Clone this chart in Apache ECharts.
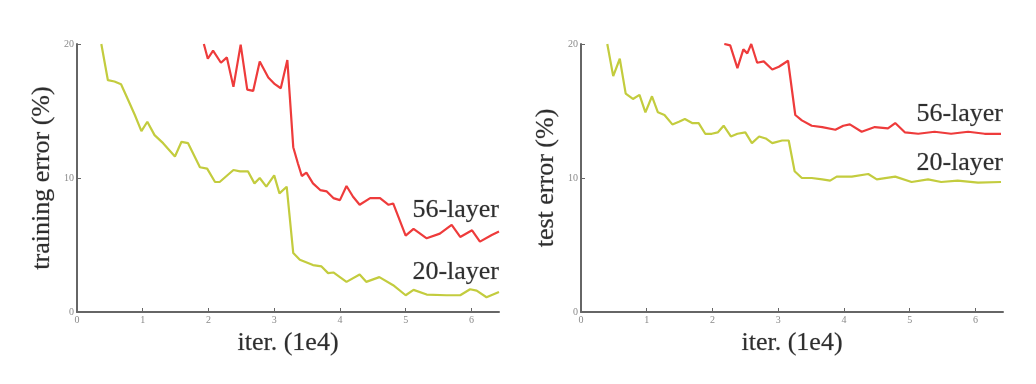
<!DOCTYPE html>
<html><head><meta charset="utf-8">
<script src="https://cdn.jsdelivr.net/npm/echarts@6/dist/echarts.min.js"></script>
<style>html,body{margin:0;padding:0;background:#fff}#c{width:1036px;height:384px}</style>
</head><body><div id="c"></div>
<script>
// training error, 20-layer [iter(1e4), error %]
const train20 = [[0.37,20.0],[0.47,17.3],[0.57,17.2],[0.67,17.0],[0.78,15.8],[0.88,14.7],[0.98,13.5],[1.07,14.2],[1.18,13.2],[1.31,12.6],[1.49,11.6],[1.59,12.7],[1.69,12.6],[1.87,10.8],[1.98,10.7],[2.10,9.7],[2.17,9.7],[2.38,10.6],[2.48,10.5],[2.60,10.5],[2.70,9.6],[2.78,10.0],[2.88,9.35],[3.00,10.2],[3.08,8.85],[3.19,9.35],[3.29,4.4],[3.39,3.9],[3.59,3.5],[3.72,3.4],[3.82,2.9],[3.90,2.95],[4.10,2.25],[4.30,2.8],[4.40,2.25],[4.60,2.6],[4.81,2.0],[5.00,1.25],[5.12,1.65],[5.32,1.3],[5.62,1.25],[5.83,1.25],[5.98,1.7],[6.08,1.6],[6.23,1.1],[6.42,1.5]];
// training error, 56-layer
const train56 = [[1.93,20.0],[1.99,18.9],[2.07,19.5],[2.19,18.6],[2.28,19.0],[2.38,16.8],[2.49,19.95],[2.59,16.6],[2.68,16.5],[2.78,18.7],[2.91,17.5],[3.01,17.0],[3.10,16.7],[3.20,18.8],[3.29,12.3],[3.36,11.1],[3.42,10.15],[3.49,10.4],[3.59,9.6],[3.70,9.1],[3.80,9.0],[3.90,8.5],[4.00,8.35],[4.10,9.4],[4.20,8.6],[4.30,8.0],[4.46,8.5],[4.61,8.5],[4.74,8.0],[4.81,8.1],[5.00,5.7],[5.12,6.2],[5.32,5.5],[5.52,5.85],[5.70,6.5],[5.83,5.6],[6.01,6.1],[6.13,5.25],[6.31,5.75],[6.42,6.0]];
// test error, 20-layer
const test20 = [[0.40,20.0],[0.49,17.6],[0.59,18.9],[0.68,16.3],[0.79,15.9],[0.89,16.2],[0.98,14.9],[1.08,16.1],[1.17,14.9],[1.27,14.7],[1.39,14.0],[1.49,14.2],[1.58,14.4],[1.69,14.1],[1.79,14.1],[1.89,13.3],[1.99,13.3],[2.08,13.4],[2.17,13.9],[2.28,13.1],[2.38,13.3],[2.50,13.4],[2.60,12.6],[2.71,13.1],[2.81,12.95],[2.91,12.6],[3.06,12.8],[3.16,12.8],[3.25,10.5],[3.36,10.0],[3.51,10.0],[3.67,9.9],[3.79,9.8],[3.89,10.1],[4.12,10.1],[4.37,10.3],[4.50,9.9],[4.78,10.1],[5.03,9.7],[5.28,9.9],[5.48,9.7],[5.73,9.8],[6.04,9.65],[6.39,9.7]];
// test error, 56-layer
const test56 = [[2.18,20.0],[2.27,19.9],[2.38,18.2],[2.47,19.6],[2.53,19.3],[2.59,20.0],[2.68,18.6],[2.78,18.7],[2.91,18.1],[3.01,18.3],[3.15,18.75],[3.26,14.7],[3.36,14.3],[3.51,13.9],[3.67,13.8],[3.87,13.6],[3.99,13.9],[4.09,14.0],[4.27,13.45],[4.47,13.8],[4.67,13.7],[4.78,14.1],[4.93,13.4],[5.13,13.3],[5.38,13.45],[5.63,13.3],[5.89,13.45],[6.14,13.3],[6.39,13.3]];
const yTicks = [0, 10, 20];
const xTicks = [0, 1, 2, 3, 4, 5, 6];
const yNames = ['training error (%)', 'test error (%)'];
const xName = 'iter. (1e4)';
const seriesNames = ['56-layer', '20-layer'];

const RED = '#ee3b3b', GREEN = '#c3cc3e', AX = '#666', TXT = '#2e2e2e';
const serif = '"Liberation Serif","DejaVu Serif",serif';
const chart = echarts.init(document.getElementById('c'));

function xAx(i){return {gridIndex:i,type:'value',min:xTicks[0],max:6.42,interval:1,
  name:xName,nameLocation:'middle',nameGap:18,nameTextStyle:{fontFamily:serif,fontSize:26,color:TXT,textBorderColor:'rgba(46,46,46,0.35)',textBorderWidth:0.6},
  axisLine:{lineStyle:{color:AX,width:2}},axisTick:{inside:true,length:4,lineStyle:{color:AX,width:1}},
  axisLabel:{showMaxLabel:false,fontSize:10,color:'#8a8a8a',margin:3,fontFamily:serif,
    formatter:v=>xTicks.indexOf(v)>=0?String(v):''},splitLine:{show:false}};}
function yAx(i){return {gridIndex:i,type:'value',min:yTicks[0],max:yTicks[2],interval:10,
  name:yNames[i],nameLocation:'middle',nameGap:22,nameRotate:90,nameTextStyle:{fontFamily:serif,fontSize:26,color:TXT,textBorderColor:'rgba(46,46,46,0.35)',textBorderWidth:0.6},
  axisLine:{show:true,lineStyle:{color:AX,width:2}},axisTick:{show:true,inside:true,length:4,lineStyle:{color:AX,width:1}},
  axisLabel:{fontSize:10,color:'#8a8a8a',margin:3,fontFamily:serif},splitLine:{show:false}};}
function ser(i,data,color){return {type:'line',xAxisIndex:i,yAxisIndex:i,data:data,showSymbol:false,
  lineStyle:{color:color,width:2.2},itemStyle:{color:color},silent:true,z:3};}
function lbl(x,y,t){return {type:'text',x:x,y:y,style:{text:t,font:'26px '+serif,fill:TXT,stroke:'rgba(46,46,46,0.35)',lineWidth:0.6,textAlign:'right',textVerticalAlign:'middle'}};}

chart.setOption({
  animation:false,
  grid:[{left:77,top:44,width:422,height:268},{left:581,top:44,width:422,height:268}],
  xAxis:[xAx(0),xAx(1)],
  yAxis:[yAx(0),yAx(1)],
  series:[ser(0,train56,RED),ser(0,train20,GREEN),ser(1,test56,RED),ser(1,test20,GREEN)],
  graphic:[lbl(499,210,seriesNames[0]),lbl(499,272,seriesNames[1]),lbl(1003,114,seriesNames[0]),lbl(1003,163,seriesNames[1])]
});
</script></body></html>
